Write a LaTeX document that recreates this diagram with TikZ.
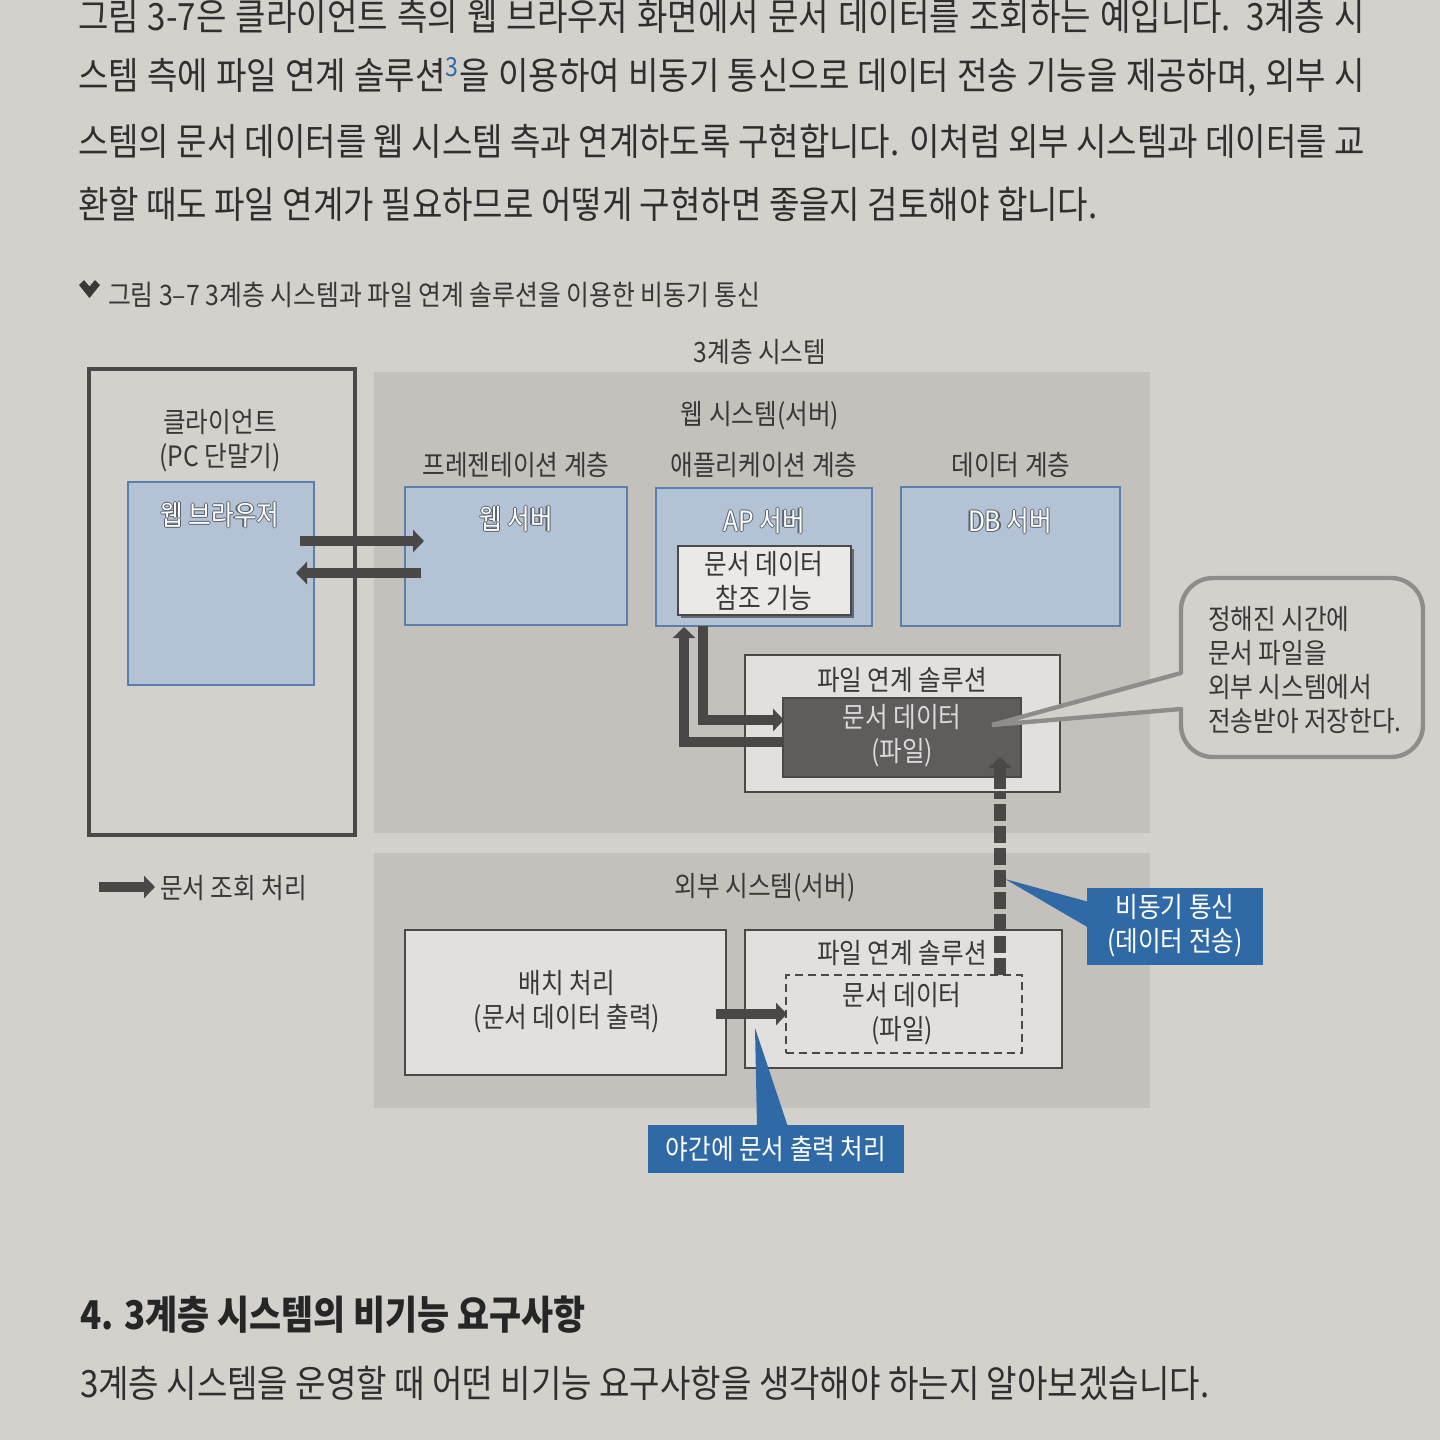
\documentclass[tikz,border=0pt]{standalone}
\usepackage{fontspec}
\setmainfont{Noto Sans CJK KR}[FakeStretch=0.88]
\usetikzlibrary{arrows.meta,fit,shadows,calc}
\definecolor{pagebg}{HTML}{D4D1CD}
\definecolor{areagrey}{HTML}{C4C1BD}
\definecolor{boxlight}{HTML}{E2E0DC}
\definecolor{boxblue}{HTML}{B3C2D4}
\definecolor{blueline}{HTML}{5B7FAB}
\definecolor{darkline}{HTML}{4A4848}
\definecolor{arrowc}{HTML}{4A4747}
\definecolor{darkbox}{HTML}{5F5C5B}
\definecolor{darktxt}{HTML}{DADADA}
\definecolor{callblue}{HTML}{2F6AA7}
\definecolor{bubline}{HTML}{8F8D8B}
\definecolor{txt}{HTML}{383838}
\definecolor{bodytxt}{HTML}{2F2F2F}
\definecolor{supblue}{HTML}{2F6AA7}
\definecolor{olc}{HTML}{5A626E}
\newcommand\olt[1]{\leavevmode\rlap{\textcolor{olc}{\hspace*{0.6pt}#1}}\rlap{\textcolor{olc}{\hspace*{-0.6pt}#1}}\rlap{\textcolor{olc}{\raisebox{0.6pt}{#1}}}\rlap{\textcolor{olc}{\raisebox{-0.6pt}{#1}}}\textcolor{white}{#1}}
\newcommand\dfont{\fontsize{14pt}{17pt}\selectfont}
\newcommand\bfontsz{\fontsize{18.8pt}{22pt}\selectfont}
\begin{document}
\begin{tikzpicture}[x=0.5pt,y=-0.5pt,
  every node/.style={inner sep=0pt,outer sep=0pt},
  area/.style={fill=areagrey,draw=none},
  bluebox/.style={fill=boxblue,draw=blueline,line width=0.8pt},
  plainbox/.style={fill=boxlight,draw=darkline,line width=1pt},
  lbl/.style={font=\dfont,text=txt,align=center},
  bodyline/.style={font=\bfontsz,text=bodytxt,anchor=west},
  fat/.style={draw=arrowc,line width=4.6pt,-{Triangle[length=5.5pt,width=11pt]}},
  callout/.style={fill=callblue,draw=none},
  calltxt/.style={font=\dfont,text=white,align=center}]
\useasboundingbox (0,0) rectangle (1440,1440);
\fill[pagebg] (0,0) rectangle (1440,1440);

% body text
\node[bodyline] (l1) at (78,16) {\makebox[643.5pt][s]{그림 3-7은 클라이언트 측의 웹 브라우저 화면에서 문서 데이터를 조회하는 예입니다. 3계층 시}};
\node[bodyline] (l2) at (78,77) {\makebox[643.5pt][s]{스템 측에 파일 연계 솔루션\textsuperscript{\textcolor{supblue}{3}}을 이용하여 비동기 통신으로 데이터 전송 기능을 제공하며, 외부 시}};
\node[bodyline] (l3) at (78,141) {\makebox[643.5pt][s]{스템의 문서 데이터를 웹 시스템 측과 연계하도록 구현합니다. 이처럼 외부 시스템과 데이터를 교}};
\node[bodyline] (l4) at (78,204) {환할 때도 파일 연계가 필요하므로 어떻게 구현하면 좋을지 검토해야 합니다.};

% caption
\fill[txt] (79,285) -- (84,280) -- (89.5,286.5) -- (95,280) -- (100,285) -- (89.5,298) -- cycle;
\node[anchor=west,font=\fontsize{14.1pt}{17pt}\selectfont,text=txt] (cap) at (108,295) {그림 3–7 3계층 시스템과 파일 연계 솔루션을 이용한 비동기 통신};

% title
\node[lbl] (t3) at (760,352) {3계층 시스템};

% areas
\node[area,fit={(374,372)(1150,833)}] (tier) {};
\node[area,fit={(374,853)(1150,1108)}] (ext) {};

% client
\node[draw=darkline,line width=1.6pt,fill=pagebg,fit={(89,369)(355,835)}] (client) {};
\node[lbl] (cl1) at (220,422) {클라이언트};
\node[lbl] (cl2) at (220,458) {(PC 단말기)};
\node[bluebox,fit={(128,482)(314,685)}] (browser) {};
\node[lbl] (brt) at (220,515) {\olt{웹 브라우저}};

% web system
\node[lbl] (ws) at (760,416) {웹 시스템(서버)};
\node[lbl] (pl) at (516,465) {프레젠테이션 계층};
\node[lbl] (al) at (764,465) {애플리케이션 계층};
\node[lbl] (dl) at (1011,465) {데이터 계층};
\node[bluebox,fit={(405,487)(627,625)}] (websrv) {};
\node[lbl] (wst) at (516,519) {\olt{웹 서버}};
\node[bluebox,fit={(656,488)(872,626)}] (apsrv) {};
\node[lbl] (apt) at (764,521) {\olt{AP 서버}};
\node[plainbox,fill=boxlight!70!white,
  drop shadow={shadow xshift=1.5pt,shadow yshift=-1.5pt,fill=black,opacity=0.45},
  fit={(678,546)(851,615)}] (ref) {};
\node[lbl] (reft) at (764,581) {문서 데이터\\참조 기능};
\node[bluebox,fit={(901,487)(1120,626)}] (dbsrv) {};
\node[lbl] (dbt) at (1010,521) {\olt{DB 서버}};

% upper file solution
\node[plainbox,fit={(745,655)(1060,792)}] (fs1) {};
\node[lbl] (fs1t) at (902,680) {파일 연계 솔루션};
\node[fill=darkbox,draw=darkline,line width=0.8pt,fit={(783,698)(1021,777)}] (doc1) {};
\node[lbl,text=darktxt] (doc1t) at (902,736) {문서 데이터\\(파일)};

% browser <-> web server arrows
\coordinate (b1) at (300,541); \coordinate (w1) at (424,541);
\coordinate (w2) at (421,573); \coordinate (b2) at (296,573);
\draw[fat] (b1) -- (w1);
\draw[fat] (w2) -- (b2);

% AP <-> doc arrows
\coordinate (apd) at (703,626); \coordinate (docin) at (784,720);
\coordinate (docout) at (783,742); \coordinate (apu) at (684,627);
\draw[fat,line join=miter] (apd) |- (docin);
\draw[fat,line join=miter] (docout) -| (apu);

% bubble
\node[draw=bubline,line width=2.2pt,fill=pagebg,rounded corners=16pt,fit={(1181,578)(1423,757)}] (bub) {};
\coordinate (btip) at (992,725);
\fill[pagebg] (btip) -- (1181,673) -- (1192,673) -- (1192,709) -- (1181,709) -- cycle;
\draw[bubline,line width=2.2pt,line cap=round] (1181,673) -- (btip) -- (1181,709);
\node[font=\dfont,text=txt,align=left,anchor=west] (bubt) at (1208,670) {정해진 시간에\\문서 파일을\\외부 시스템에서\\전송받아 저장한다.};

% external system
\node[lbl] (est) at (765,888) {외부 시스템(서버)};
\node[plainbox,fit={(405,930)(726,1075)}] (batch) {};
\node[lbl] (batcht) at (567,1002) {배치 처리\\(문서 데이터 출력)};
\node[plainbox,fit={(745,930)(1062,1068)}] (fs2) {};
\node[lbl] (fs2t) at (902,953) {파일 연계 솔루션};
\node[draw=darkline,line width=0.9pt,dash pattern=on 4pt off 2.5pt,fit={(786,975)(1022,1053)}] (doc2) {};
\node[lbl] (doc2t) at (902,1014) {문서 데이터\\(파일)};

% batch -> doc2
\coordinate (bo) at (716,1014); \coordinate (di) at (787,1014);
\draw[fat] (bo) -- (di);

% async dashed arrow
\coordinate (as0) at (1000,975); \coordinate (as1) at (1000,791); \coordinate (as2) at (1000,757);
\draw[draw=arrowc,line width=5.6pt,dash pattern=on 8.5pt off 2.5pt] (as0) -- (as1);
\draw[draw=arrowc,line width=5.6pt,-{Triangle[length=5.5pt,width=11.5pt]}] ([yshift=1pt]as1) -- (as2);

% blue callouts
\node[callout,fit={(1087,888)(1263,965)}] (c1) {};
\coordinate (c1tip) at (1005,879);
\fill[callblue] (c1tip) -- (1089,902) -- (1089,928) -- cycle;
\node[calltxt] (c1t) at (1175,926) {비동기 통신\\(데이터 전송)};
\node[callout,fit={(648,1125)(904,1173)}] (c2) {};
\coordinate (c2tip) at (755,1028);
\fill[callblue] (c2tip) -- (788,1127) -- (757,1127) -- cycle;
\node[calltxt] (c2t) at (776,1149) {야간에 문서 출력 처리};

% legend
\coordinate (lg0) at (99,887); \coordinate (lg1) at (155,887);
\draw[fat] (lg0) -- (lg1);
\node[lbl,anchor=west] (lgt) at (160,888) {문서 조회 처리};

% section heading
\node[anchor=west,font=\fontsize{19.8pt}{24pt}\selectfont\bfseries,text=black!85] (h4) at (80,1315) {4. 3계층 시스템의 비기능 요구사항};
\node[bodyline] (p1) at (80,1383) {3계층 시스템을 운영할 때 어떤 비기능 요구사항을 생각해야 하는지 알아보겠습니다.};
\end{tikzpicture}
\end{document}
